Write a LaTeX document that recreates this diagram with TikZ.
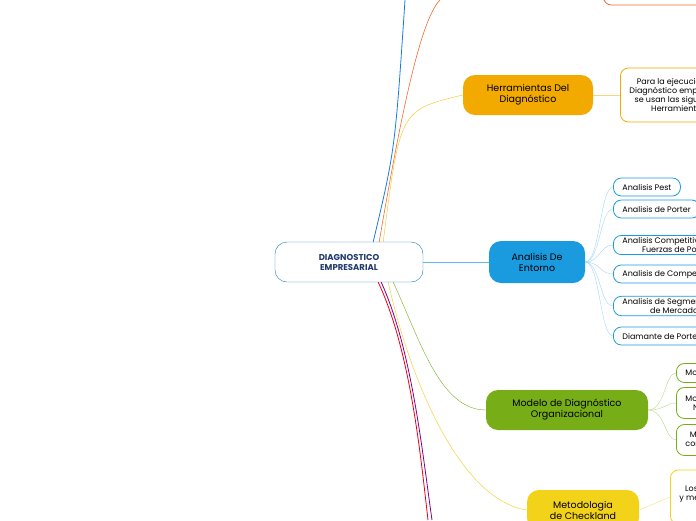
\documentclass[tikz,border=0pt]{standalone}
\usepackage{fontspec}
\setmainfont{Poppins}
\begin{document}
\begin{tikzpicture}[x=1pt,y=-1pt,
 main/.style={rounded corners=12pt,minimum height=40pt,align=center,font=\fontsize{9.5}{11}\selectfont,text=black},
 leaf/.style={draw,rounded corners=8pt,thick,fill=white,align=center,anchor=west,inner xsep=9pt,inner ysep=2pt,minimum height=18pt,font=\fontsize{8}{9}\selectfont,text=black}]
\useasboundingbox (0,0) rectangle (696,520);
\clip (0,0) rectangle (696,520);
\definecolor{bl}{HTML}{1A9BE0}\definecolor{gold}{HTML}{F2A900}\definecolor{gr}{HTML}{77AE18}
\definecolor{ye}{HTML}{F3D31A}\definecolor{ora}{HTML}{F26A2E}\definecolor{navy}{HTML}{1F3A6B}
\node[main,draw=bl!70!navy,fill=white,minimum width=148pt,text=navy,font=\fontsize{8.5}{10}\selectfont\bfseries] (c) at (349,262) {DIAGNOSTICO\\EMPRESARIAL};
\coordinate (t1) at (405,0);\coordinate (t2) at (440,0);
\coordinate (b1) at (428,520);\coordinate (b2) at (432,520);
\draw[bl!80!blue,thick] (c.north east)+(-50,0) .. controls (395,150) .. (t1);
\draw[ora,semithick] (c.north east)+(-44,0) .. controls (400,120) and (420,20) .. (t2);
\draw[red!60!purple,thick] (c.south east)+(-45,0) .. controls (410,350) and (420,450) .. (b1);
\draw[purple!70!blue,thick] (c.south east)+(-42,0) .. controls (412,350) and (422,450) .. (b2);
\node[leaf,draw=ora,minimum width=120pt,minimum height=20pt] (top) at (603,-5) {\phantom{x}};
\node[main,fill=gold,minimum width=130pt] (h) at (528,95) {Herramientas Del\\Diagnóstico};
\draw[ye!80!orange] (c.north east)+(-40,0) .. controls (400,110) .. (h.west);
\node[leaf,draw=gold,minimum height=54pt] (h1) at (620,95) {Para la ejecución del\\Diagnóstico empresarial\\se usan las siguientes\\Herramientas};
\draw[gold!50] (h.east) -- (h1.west);
\node[main,fill=bl,minimum width=96pt,minimum height=42pt] (e) at (537,262) {Analisis De\\Entorno};
\draw[bl!70] (c.east) -- (e.west);
\foreach \n/\y/\t in {e1/187/{Analisis Pest},e2/209/{Analisis de Porter},e3/245/{Analisis Competitivo de las\\Fuerzas de Porter},e4/274/{Analisis de Competencia},e5/306/{Analisis de Segmentación\\de Mercado},e6/336/{Diamante de Porter}}{
 \node[leaf,draw=bl] (\n) at (613,\y) {\t};
 \draw[bl!40] (e.east) .. controls (600,262) and (600,\y) .. (\n.west);}
\node[main,fill=gr,minimum width=162pt] (m) at (567,410) {Modelo de Diagnóstico\\Organizacional};
\draw[gr] (c.south east)+(-30,0) .. controls (420,340) and (440,410) .. (m.west);
\foreach \n/\y/\hh/\t in {m1/373/19pt/{Modelo},m2/403/31pt/{Modelo de\\Nadler},m3/440/31pt/{Modelo de\\congruencia}}{
 \node[leaf,draw=gr,minimum height=\hh] (\n) at (676,\y) {\t};
 \draw[gr!50] (m.east) .. controls (665,410) and (665,\y) .. (\n.west);}
\node[main,fill=ye,minimum width=112pt] (k) at (583,510) {Metodologia\\de Checkland};
\draw[ye!90!orange] (c.south east)+(-35,0) .. controls (410,380) and (460,500) .. (k.west);
\node[leaf,draw=ye,minimum height=54pt] (k1) at (670,497) {Los sistemas\\y metodologías\\\phantom{x}};
\draw[ye!60] (k.east) -- (k1.west);
\end{tikzpicture}
\end{document}
